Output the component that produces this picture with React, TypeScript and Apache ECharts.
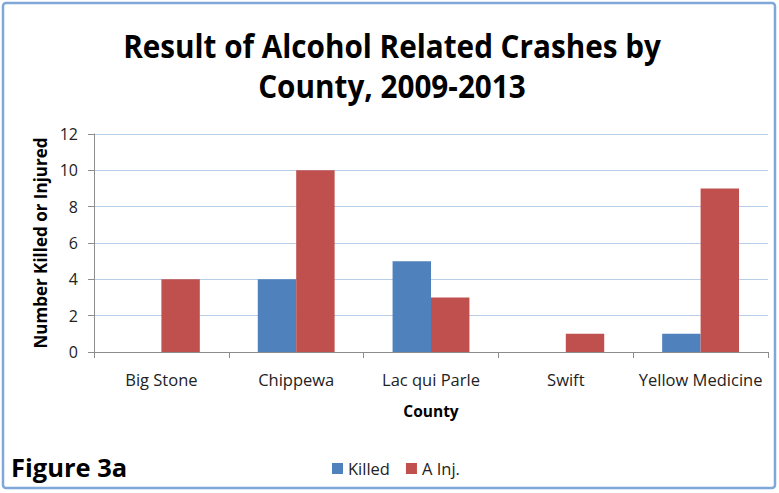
import React, { useEffect, useRef } from "react";
import * as echarts from "echarts";

const categories = ["Big Stone", "Chippewa", "Lac qui Parle", "Swift", "Yellow Medicine"];
const killed = [0, 4, 5, 0, 1];
const aInj = [4, 10, 3, 1, 9];
const seriesNames = ["Killed", "A Inj."];
const titleLines = ["Result of Alcohol Related Crashes by", "County, 2009-2013"];

export default function App() {
  const ref = useRef<HTMLDivElement>(null);
  useEffect(() => {
    const chart = echarts.init(ref.current!, null, { renderer: "svg" });
    const font = "'Open Sans', 'DejaVu Sans', sans-serif";
    chart.setOption({
      animation: false,
      backgroundColor: "#ffffff",
      textStyle: { fontFamily: font },
      graphic: [
        {
          type: "rect",
          shape: { x: 3, y: 3, width: 772, height: 485, r: 3 },
          style: { fill: "none", stroke: "#7fa7d8", lineWidth: 2.5 },
          silent: true,
        },
        {
          type: "text",
          x: 392,
          y: 45,
          scaleX: 0.9,
          style: {
            text: titleLines[0],
            fontFamily: font,
            fontSize: 33,
            fontWeight: "bold",
            fill: "#000",
            align: "center",
            verticalAlign: "middle",
          },
        },
        {
          type: "text",
          x: 392,
          y: 85,
          scaleX: 0.9,
          style: {
            text: titleLines[1],
            fontFamily: font,
            fontSize: 33,
            fontWeight: "bold",
            fill: "#000",
            align: "center",
            verticalAlign: "middle",
          },
        },
        {
          type: "text",
          x: 11,
          y: 467,
          style: {
            text: "Figure 3a",
            fontFamily: font,
            fontSize: 25.5,
            fontWeight: "bold",
            fill: "#000",
            verticalAlign: "middle",
          },
        },
      ],
      legend: {
        data: seriesNames,
        left: 327,
        top: 455,
        itemWidth: 11,
        itemHeight: 11,
        itemGap: 16,
        icon: "rect",
        textStyle: { fontFamily: font, fontSize: 16.5, color: "#222", padding: [0, 0, 0, 0] },
      },
      grid: { left: 94, right: 11, top: 134, bottom: 141, containLabel: false },
      xAxis: {
        type: "category",
        data: categories,
        name: "County",
        nameLocation: "middle",
        nameGap: 51,
        nameTextStyle: { fontFamily: font, fontSize: 15.5, fontWeight: "bold", color: "#000" },
        axisLine: { lineStyle: { color: "#8c8c8c", width: 1 } },
        axisTick: { show: true, length: 6, lineStyle: { color: "#8c8c8c" } },
        axisLabel: { fontFamily: font, fontSize: 16.5, color: "#222", margin: 19, interval: 0 },
      },
      yAxis: {
        type: "value",
        min: 0,
        max: 12,
        interval: 2,
        name: "Number Killed or Injured",
        nameLocation: "middle",
        nameGap: 45,
        nameTextStyle: { fontFamily: font, fontSize: 17, fontWeight: "bold", color: "#000" },
        axisLine: { show: true, lineStyle: { color: "#8c8c8c", width: 1 } },
        axisTick: { show: true, length: 6, lineStyle: { color: "#8c8c8c" } },
        axisLabel: { fontFamily: font, fontSize: 16, color: "#222", margin: 16 },
        splitLine: { lineStyle: { color: "#b8cde8", width: 1 } },
      },
      series: [
        {
          name: seriesNames[0],
          type: "bar",
          data: killed,
          itemStyle: { color: "#4f81bd" },
          barGap: "0%",
          barCategoryGap: "43%",
        },
        {
          name: seriesNames[1],
          type: "bar",
          data: aInj,
          itemStyle: { color: "#c0504d" },
          barGap: "0%",
          barCategoryGap: "43%",
        },
      ],
    });
    return () => chart.dispose();
  }, []);
  return <div ref={ref} style={{ position: "absolute", left: 0, top: 0, width: 779, height: 493 }} />;
}
